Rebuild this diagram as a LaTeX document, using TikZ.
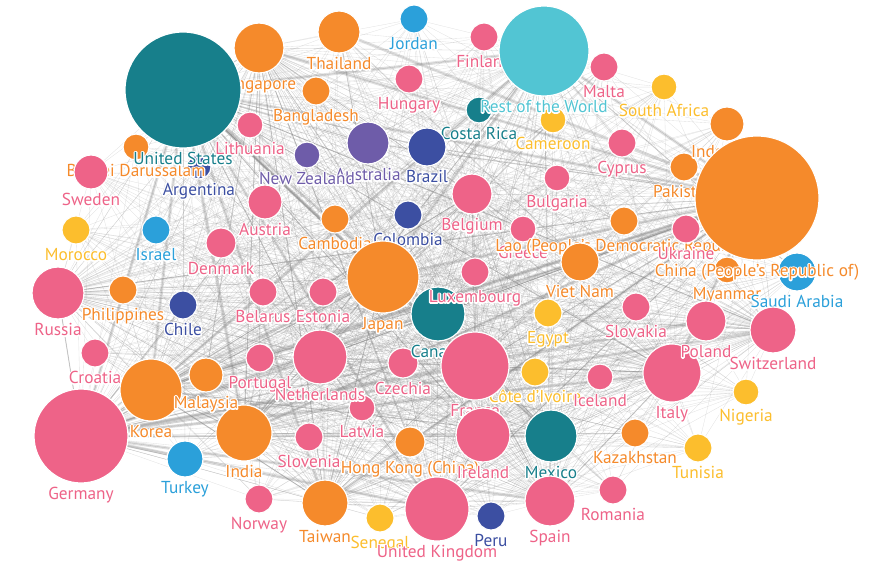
\documentclass[tikz,border=0pt]{standalone}
\usepackage{fontspec}
\setmainfont{PT Sans}
\usetikzlibrary{backgrounds}
\definecolor{cpink}{HTML}{EE6388}
\definecolor{corange}{HTML}{F58A2B}
\definecolor{cteal}{HTML}{177F8B}
\definecolor{ccyan}{HTML}{52C5D3}
\definecolor{cpurple}{HTML}{6E5CA9}
\definecolor{cdblue}{HTML}{3C4FA2}
\definecolor{clblue}{HTML}{2BA0DA}
\definecolor{cyellow}{HTML}{FCBE2D}
\newcommand\halo[1]{\leavevmode\rlap{\special{pdf:literal direct 1 Tr 2.6 w 1 j 1 J 1 1 1 RG}#1\special{pdf:literal direct 0 Tr}}#1}
\tikzset{
  bub/.style={circle,draw=white,line width=1.2pt,inner sep=0pt},
  lab/.style={anchor=base,inner sep=0pt,font=\fontsize{17.3}{19}\selectfont},
  e1/.style={draw=black!45,line width=0.35pt,opacity=0.25},
  e2/.style={draw=black!50,line width=1pt,opacity=0.3},
  e3/.style={draw=black!45,line width=3pt,opacity=0.28},
}
\newcommand\ctry[6]{%
  \node[bub,fill=#5,minimum size={2*#4pt}] (#1) at (#2,#3) {};
  \node[lab,text=#5] (#1-l) at (#2,#3+#4+16.5) {\halo{#6}};
}
\begin{document}
\begin{tikzpicture}[x=1pt,y=-1pt]
\useasboundingbox (0,0) rectangle (875,577);
\ctry{ARG}{199}{167}{12}{cdblue}{Argentina}
\ctry{FIN}{484}{37}{14}{cpink}{Finland}
\ctry{JOR}{414}{19}{14}{clblue}{Jordan}
\ctry{HUN}{409}{79}{14}{cpink}{Hungary}
\ctry{BGD}{316}{91}{14}{corange}{Bangladesh}
\ctry{CRI}{479}{110}{13}{cteal}{Costa Rica}
\ctry{CMR}{553}{120}{13}{cyellow}{Cameroon}
\ctry{LTU}{250}{125}{13}{cpink}{Lithuania}
\ctry{BRN}{136}{147}{13}{corange}{Brunei Darussalam}
\ctry{MLT}{604}{67}{14}{cpink}{Malta}
\ctry{ZAF}{664}{87}{13}{cyellow}{South Africa}
\ctry{CYP}{622}{143}{14}{cpink}{Cyprus}
\ctry{PAK}{684}{167}{14}{corange}{Pakistan}
\ctry{IDN}{727}{124}{17}{corange}{Indonesia}
\ctry{GRC}{523}{229}{13}{cpink}{Greece}
\ctry{LAO}{624}{221}{14}{corange}{Lao (People’s Democratic Republic)}
\ctry{UKR}{686}{229}{14}{cpink}{Ukraine}
\ctry{BGR}{557}{178}{13}{cpink}{Bulgaria}
\ctry{COL}{408}{215}{14}{cdblue}{Colombia}
\ctry{KHM}{335}{219}{14}{corange}{Cambodia}
\ctry{EST}{323}{292}{14}{cpink}{Estonia}
\ctry{BLR}{263}{292}{14}{cpink}{Belarus}
\ctry{EGY}{548}{313}{14}{cyellow}{Egypt}
\ctry{CZE}{403}{363}{15}{cpink}{Czechia}
\ctry{CIV}{535}{372}{14}{cyellow}{Côte d’Ivoire}
\ctry{ISL}{600}{377}{13}{cpink}{Iceland}
\ctry{SVK}{636}{307}{14}{cpink}{Slovakia}
\ctry{MMR}{727}{270}{13}{corange}{Myanmar}
\ctry{NGA}{746}{392}{13}{cyellow}{Nigeria}
\ctry{KAZ}{635}{433}{14}{corange}{Kazakhstan}
\ctry{TUN}{698}{448}{14}{cyellow}{Tunisia}
\ctry{ROU}{613}{490}{14}{cpink}{Romania}
\ctry{PER}{491}{516}{14}{cdblue}{Peru}
\ctry{SEN}{380}{518}{14}{cyellow}{Senegal}
\ctry{HKG}{410}{442}{15}{corange}{Hong Kong (China)}
\ctry{LVA}{362}{408}{13}{cpink}{Latvia}
\ctry{SVN}{309}{437}{14}{cpink}{Slovenia}
\ctry{NOR}{259}{499}{14}{cpink}{Norway}
\ctry{PRT}{260}{358}{14}{cpink}{Portugal}
\ctry{HRV}{95}{353}{14}{cpink}{Croatia}
\ctry{MAR}{76}{230}{14}{cyellow}{Morocco}
\ctry{ISR}{156}{230}{14}{clblue}{Israel}
\ctry{PHL}{123}{290}{14}{corange}{Philippines}
\ctry{CHL}{183}{305}{14}{cdblue}{Chile}
\ctry{DNK}{221}{243}{15}{cpink}{Denmark}
\ctry{SWE}{91}{172}{17}{cpink}{Sweden}
\ctry{AUT}{265}{202}{17}{cpink}{Austria}
\ctry{TUR}{185}{459}{18}{clblue}{Turkey}
\ctry{BRA}{427}{147}{19}{cdblue}{Brazil}
\ctry{SAU}{797}{272}{19}{clblue}{Saudi Arabia}
\ctry{VNM}{580}{262}{19}{corange}{Viet Nam}
\ctry{BEL}{472}{194}{20}{cpink}{Belgium}
\ctry{AUS}{368}{143}{21}{cpurple}{Australia}
\ctry{NZL}{307}{155}{13}{cpurple}{New Zealand}
\ctry{THA}{339}{32}{21}{corange}{Thailand}
\ctry{SGP}{259}{48}{25}{corange}{Singapore}
\ctry{CHE}{773}{330}{23}{cpink}{Switzerland}
\ctry{TWN}{325}{503}{23}{corange}{Taiwan}
\ctry{MEX}{551}{436}{26}{cteal}{Mexico}
\ctry{ESP}{550}{501}{25}{cpink}{Spain}
\ctry{RUS}{58}{293}{26}{cpink}{Russia}
\ctry{NLD}{320}{357}{27}{cpink}{Netherlands}
\ctry{CAN}{438}{314}{27}{cteal}{Canada}
\ctry{LUX}{475}{272}{14}{cpink}{Luxembourg}
\ctry{IND}{244}{433}{28}{corange}{India}
\ctry{ITA}{672}{373}{29}{cpink}{Italy}
\ctry{POL}{706}{321}{20}{cpink}{Poland}
\ctry{KOR}{151}{390}{31}{corange}{Korea}
\ctry{MYS}{206}{375}{17}{corange}{Malaysia}
\ctry{UK}{437}{509}{32}{cpink}{United Kingdom}
\ctry{FRA}{475}{366}{34}{cpink}{France}
\ctry{IRL}{483}{435}{27}{cpink}{Ireland}
\ctry{JPN}{383}{277}{36}{corange}{Japan}
\ctry{RoW}{544}{51}{45}{ccyan}{Rest of the World}
\ctry{DEU}{81}{436}{47}{cpink}{Germany}
\ctry{US}{183}{90}{58}{cteal}{United States}
\ctry{CHN}{757}{198}{62}{corange}{China (People’s Republic of)}
\begin{pgfonlayer}{background}
\foreach \a in {ARG,FIN,JOR,HUN,BGD,CRI,CMR,LTU,BRN,MLT,ZAF,CYP,PAK,IDN,GRC,LAO,UKR,BGR,LUX,COL,KHM,EST,BLR,EGY,CZE,CIV,ISL,SVK,MMR,NGA,KAZ,TUN,ROU,PER,SEN,HKG,LVA,SVN,NOR,PRT,HRV,MAR,ISR,PHL,CHL,DNK,SWE,AUT,MYS,TUR,BRA,SAU,VNM,BEL,POL,AUS,NZL,THA,SGP,CHE,TWN,MEX,ESP,RUS,NLD,CAN,IND,ITA,KOR,UK,FRA,IRL,JPN,RoW,DEU,US,CHN}
  \foreach \b in {US,CHN,DEU,JPN,UK,FRA,KOR,ITA,NLD,RoW,IND,CAN,MEX,IRL,ESP,CHE,TWN,RUS,SGP,BEL}
    \draw[e1] (\a.center) -- (\b.center);
\foreach \a/\b in {US/CHN,US/RoW,US/JPN,US/CAN,US/MEX,US/KOR,US/DEU,US/UK,US/IND,US/TWN,CHN/JPN,CHN/KOR,CHN/DEU,CHN/RoW,CHN/TWN,CHN/VNM,CHN/IND,CHN/SGP,CHN/MYS,CHN/THA,CHN/ITA,DEU/FRA,DEU/NLD,DEU/ITA,DEU/UK,DEU/POL,DEU/CHE,DEU/ESP,JPN/KOR,JPN/RoW,RoW/KOR}
  \draw[e3] (\a.center) -- (\b.center);
\foreach \a/\b in {US/FRA,US/ITA,US/NLD,US/IRL,US/SGP,US/CHE,US/BRA,US/AUS,CHN/FRA,CHN/UK,CHN/NLD,CHN/AUS,CHN/BRA,CHN/IDN,CHN/HKG,CHN/RUS,JPN/DEU,JPN/TWN,JPN/THA,KOR/VNM,KOR/TWN,DEU/AUT,DEU/CZE,DEU/BEL,DEU/RUS,FRA/ITA,FRA/ESP,FRA/BEL,UK/IRL,UK/NLD,ITA/ESP,CAN/MEX,RoW/IND,RoW/SAU,IND/SGP,MYS/SGP,THA/VNM,POL/CZE,TUR/DEU,KOR/DEU,KOR/IND,KOR/MEX,JPN/IND,TWN/SGP,HKG/SGP}
  \draw[e2] (\a.center) -- (\b.center);
\end{pgfonlayer}
\end{tikzpicture}
\end{document}
